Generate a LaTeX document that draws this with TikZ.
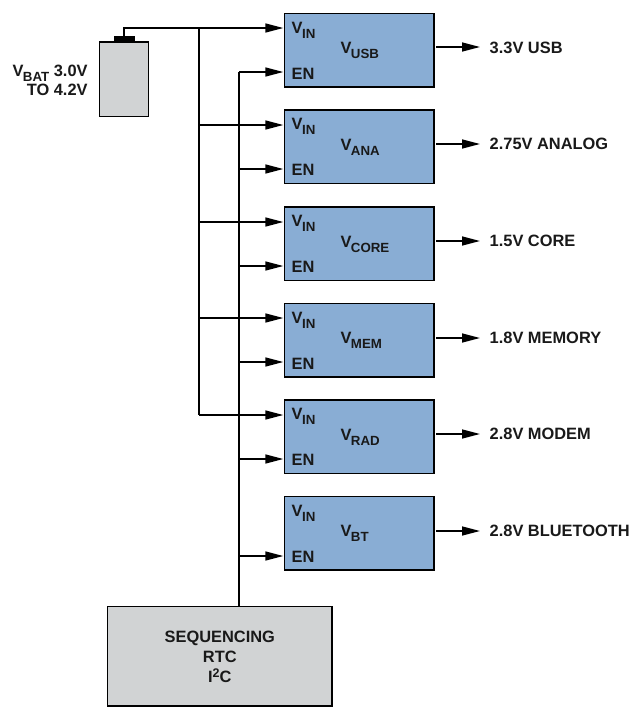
\documentclass[tikz,border=0pt]{standalone}
\usepackage{fontspec}
\setmainfont{Liberation Sans}
\usetikzlibrary{arrows.meta,calc}
\definecolor{regblue}{RGB}{137,173,212}
\definecolor{panelgray}{RGB}{209,211,212}
\tikzset{
  regbox/.style={draw=black,line width=1.5pt,fill=regblue,minimum width=149.5pt,minimum height=73.7pt,inner sep=0pt,outer sep=0pt,anchor=north west},
  graybox/.style={draw=black,line width=1.5pt,fill=panelgray,inner sep=0pt,outer sep=0pt,anchor=north west},
  wire/.style={draw=black,line width=1.5pt},
  arrowwire/.style={wire,-{Triangle[length=18pt,width=9pt]},shorten >=1pt},
  lbl/.style={font=\fontsize{16.4}{19}\selectfont\bfseries,inner sep=0pt,text=black!90},
  lblw/.style={lbl,anchor=base west}
}
\newcommand{\Vsub}[1]{V\kern-0.5pt\raisebox{-5pt}[0pt][0pt]{\fontsize{13.3}{13.3}\selectfont #1}}
\begin{document}
\begin{tikzpicture}[x=1pt,y=-1pt]
\useasboundingbox (0,0) rectangle (633,707);
\coordinate (vbus) at (199,0);
\coordinate (ebus) at (239,0);
% battery
\node[graybox,minimum width=49.4pt,minimum height=74.5pt] (bat) at (99.3,42.2) {};
\node[draw=black,fill=black,line width=0.5pt,outer sep=0pt,minimum width=20.5pt,minimum height=5.5pt,inner sep=0pt,anchor=south] (cap) at (bat.north) {};
\node[lbl,align=right,anchor=base east] (batlbl) at (87.8,95) {\Vsub{BAT} 3.0V\\TO 4.2V};
% sequencer
\node[graybox,minimum width=224.6pt,minimum height=99.3pt] (seq) at (107.6,606.5) {};
\node[lbl,align=center,anchor=center] (seqlbl) at (219.8,656.5) {SEQUENCING\\[1pt]RTC\\[1pt]I\raisebox{5pt}{\fontsize{12.5}{12.5}\selectfont 2}C};
% regulators
\foreach \n/\t/\name/\out/\vy/\ey/\oy in {
  usb/13.5/USB/3.3V USB/28/72/47,
  ana/110/ANA/2.75V ANALOG/125/169/144,
  core/207/CORE/1.5V CORE/222/266/241,
  mem/303.5/MEM/1.8V MEMORY/318/362/338,
  rad/400/RAD/2.8V MODEM/415/459/434,
  bt/496.5/BT/2.8V BLUETOOTH/511/556/531}{
  \node[regbox] (\n) at (284.3,\t) {};
  \node[lblw] (\n-vin) at ($(\n.north west)+(7.2,19.8)$) {\Vsub{IN}};
  \node[lblw] (\n-en) at ($(\n.north west)+(7.2,65.5)$) {EN};
  \node[lblw] (\n-name) at ($(\n.north west)+(56,40)$) {\Vsub{\name}};
  \coordinate (\n-vinp) at (284.3,\vy);
  \coordinate (\n-enp) at (284.3,\ey);
  \coordinate (\n-outs) at (436,\oy);
  \coordinate (\n-oute) at (481,\oy);
  \node[lblw] (\n-out) at ($(\n.north east)+(55.7,39.7)$) {\out};
  \draw[arrowwire] (\n-outs) -- (\n-oute);
  \draw[arrowwire] (ebus |- \n-enp) -- (\n-enp);
}
% battery feed
\draw[arrowwire] (cap.north) |- (usb-vinp);
\draw[wire] (vbus |- usb-vinp) -- (vbus |- rad-vinp);
\foreach \n in {ana,core,mem,rad}{
  \draw[arrowwire] (vbus |- \n-vinp) -- (\n-vinp);
}
% enable bus
\draw[wire] (ebus |- seq.north) -- (ebus |- usb-enp);
\end{tikzpicture}
\end{document}
